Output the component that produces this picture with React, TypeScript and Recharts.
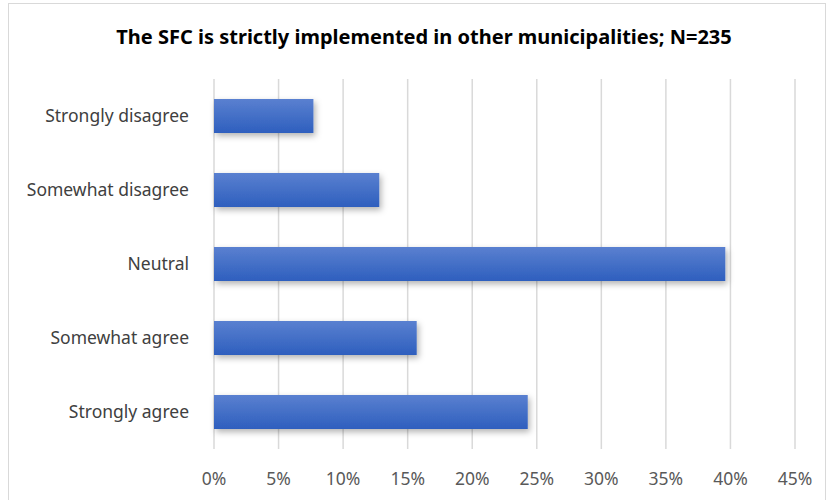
import { BarChart, Bar, XAxis, YAxis, CartesianGrid } from 'recharts';

const categories = ['Strongly disagree', 'Somewhat disagree', 'Neutral', 'Somewhat agree', 'Strongly agree'];
const shares = [7.7, 12.8, 39.6, 15.7, 24.3];
const xTicks = [0, 5, 10, 15, 20, 25, 30, 35, 40, 45];

const data = categories.map((name, i) => ({ name, share: shares[i] }));

const BarShape = (props: any) => {
  const { x, y, width, height } = props;
  return <rect x={x} y={y} width={width} height={height} fill="url(#barGrad)" filter="url(#barShadow)" />;
};

export default function App() {
  return (
    <div style={{ position: 'absolute', left: 0, top: 0, width: 833, height: 500, background: '#fff', overflow: 'hidden', fontFamily: '"Noto Sans", sans-serif' }}>
      <div style={{ position: 'absolute', left: 8, top: 3, width: 818, height: 520, border: '1px solid #d9d9d9', boxSizing: 'border-box' }} />
      <div style={{ position: 'absolute', left: 0, top: 23, width: 848, textAlign: 'center', fontSize: 20, fontWeight: 700, color: '#000' }}>
        The SFC is strictly implemented in other municipalities; N=235
      </div>
      <div style={{ position: 'absolute', left: 0, top: 0 }}>
        <BarChart width={833} height={500} data={data} layout="vertical" margin={{ top: 79, right: 38, bottom: 11, left: 8 }}>
          <defs>
            <linearGradient id="barGrad" x1="0" y1="0" x2="0" y2="1">
              <stop offset="0%" stopColor="#5a80d0" />
              <stop offset="100%" stopColor="#2e5fbe" />
            </linearGradient>
            <filter id="barShadow" x="-10%" y="-20%" width="130%" height="160%">
              <feDropShadow dx="2" dy="3" stdDeviation="3" floodColor="#000" floodOpacity="0.3" />
            </filter>
          </defs>
          <CartesianGrid horizontal={false} stroke="#d9d9d9" strokeWidth={1.5} />
          <XAxis
            type="number"
            domain={[0, 45]}
            ticks={xTicks}
            tickFormatter={(v) => `${v}%`}
            axisLine={false}
            tickLine={false}
            tickSize={0}
            tickMargin={24}
            height={40}
            interval={0}
            tick={{ fill: '#595959', fontSize: 17.5, fontFamily: '"Noto Sans", sans-serif' }}
          />
          <YAxis
            type="category"
            dataKey="name"
            width={206}
            axisLine={false}
            tickLine={false}
            tickSize={0}
            tickMargin={25}
            interval={0}
            tick={{ fill: '#404040', fontSize: 17.5, fontFamily: '"Noto Sans", sans-serif' }}
          />
          <Bar dataKey="share" barSize={34} shape={BarShape} isAnimationActive={false} />
        </BarChart>
      </div>
    </div>
  );
}
